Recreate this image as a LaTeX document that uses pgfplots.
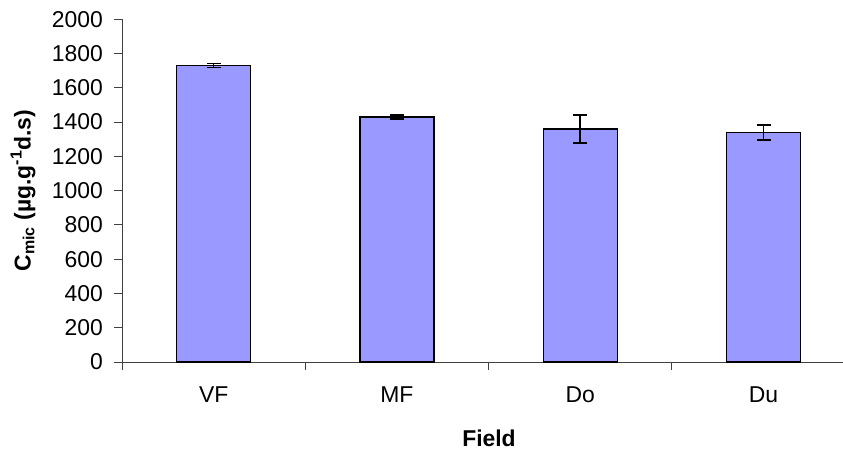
\documentclass[border=0pt]{standalone}
\usepackage{fontspec}
\setmainfont{Liberation Sans}
\usepackage{pgfplots}
\pgfplotsset{compat=1.18}
\usepackage{pgfplotstable}
\definecolor{barblue}{HTML}{9999FF}
\definecolor{axgray}{HTML}{404040}
\pgfplotstableread{
x y e
0 1730 12
1 1430 12
2 1360 82
3 1340 44
}\datatab
\begin{document}
\begin{tikzpicture}
\begin{axis}[
  name=ax,
  scale only axis, width=721bp, height=342.7bp,
  xmin=-0.5, xmax=3.4335, ymin=0, ymax=2000,
  axis x line*=bottom, axis y line*=left,
  axis line style={axgray, line width=0.9bp, -},
  ybar, bar width=0.404,
  xtick={0,1,2,3}, xticklabels={VF,MF,Do,Du},
  minor xtick={-0.5,0.5,1.5,2.5},
  ytick={0,200,...,2000},
  tick align=outside,
  major tick length=8bp, minor tick length=8bp,
  every major x tick/.append style={draw=none},
  tick style={axgray, line width=0.9bp},
  font=\fontsize{23}{27}\selectfont,
  /pgf/number format/assume math mode=true,
  /pgf/number format/1000 sep={},
  yticklabel style={inner sep=0pt, anchor=east, xshift=-11bp},
  xticklabel style={inner sep=0pt, anchor=north, yshift=-17bp},
  xlabel={\bfseries Field},
  xlabel style={at={(axis description cs:0.509,-0.222)}, anchor=center},
  ylabel={\bfseries C\textsubscript{mic} (µg.g\textsuperscript{-1}d.s)},
  ylabel style={at={(axis description cs:-0.1373,0.5)}, anchor=center},
  clip=false,
]
\addplot[fill=barblue, draw=black, line width=1.3bp,
  error bars/.cd, y dir=both, y explicit,
  error bar style={line width=1.5bp, black},
  error mark options={rotate=90, mark size=7bp, line width=1.5bp, black}]
  table[x=x, y=y, y error=e]{\datatab};
\end{axis}
\pgfresetboundingbox
\path[use as bounding box] ([shift={(-122bp,-89bp)}]ax.south west) rectangle ([shift={(0bp,19.3bp)}]ax.north east);
\end{tikzpicture}
\end{document}
